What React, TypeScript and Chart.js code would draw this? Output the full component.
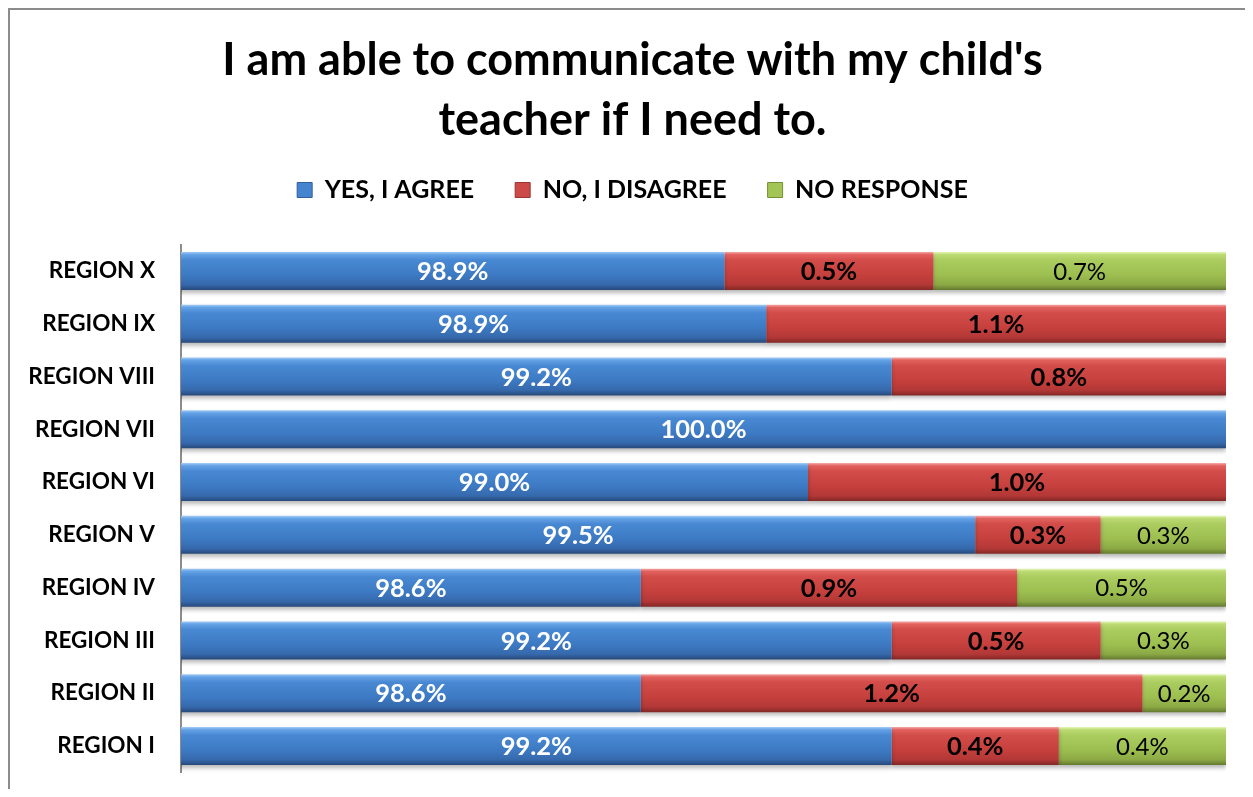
import React, { useEffect, useRef } from 'react';
import { Chart, registerables } from 'chart.js';

Chart.register(...registerables);

const titleLines = ["I am able to communicate with my child's", 'teacher if I need to.'];
const categories = ['REGION X', 'REGION IX', 'REGION VIII', 'REGION VII', 'REGION VI', 'REGION V', 'REGION IV', 'REGION III', 'REGION II', 'REGION I'];
const seriesNames = ['YES, I AGREE', 'NO, I DISAGREE', 'NO RESPONSE'];
const yesValues = [98.8, 98.9, 99.2, 100.0, 99.0, 99.4, 98.6, 99.2, 98.6, 99.2];
const noValues = [0.5, 1.1, 0.8, 0, 1.0, 0.3, 0.9, 0.5, 1.2, 0.4];
const noResponseValues = [0.7, 0, 0, 0, 0, 0.3, 0.5, 0.3, 0.2, 0.4];
const yesLabels = ['98.9%', '98.9%', '99.2%', '100.0%', '99.0%', '99.5%', '98.6%', '99.2%', '98.6%', '99.2%'];
const noLabels = ['0.5%', '1.1%', '0.8%', '', '1.0%', '0.3%', '0.9%', '0.5%', '1.2%', '0.4%'];
const noResponseLabels = ['0.7%', '', '', '', '', '0.3%', '0.5%', '0.3%', '0.2%', '0.4%'];
const axisMin = 97.5;
const axisMax = 100;

const BAR_PCT = 0.72;
const FONT = 'Lato, "Open Sans", sans-serif';

type Stop = [number, string];
const blueStops: Stop[] = [[0, '#a4cdf7'], [0.07, '#65a2e6'], [0.22, '#4888d2'], [0.6, '#3d7ac4'], [0.86, '#3669ac'], [1, '#27497a']];
const redStops: Stop[] = [[0, '#f6aaa8'], [0.07, '#e2625f'], [0.22, '#d24c49'], [0.6, '#c6403d'], [0.86, '#b23836'], [1, '#832826']];
const greenStops: Stop[] = [[0, '#e6f7b8'], [0.07, '#bcdb74'], [0.22, '#abcc5f'], [0.6, '#9dbf50'], [0.86, '#8ca945'], [1, '#637a2f']];
const legendFills = ['#4585d0', '#cc4a47', '#a2c556'];
const legendStrokes = ['#2f5f9c', '#9a3432', '#748f38'];

function barGradient(stops: Stop[]) {
  return (ctx: any) => {
    const chart = ctx.chart;
    const sc = chart.scales && chart.scales.y;
    if (ctx.type !== 'data' || !sc || !sc.height) return stops[3][1];
    const c = sc.getPixelForValue(ctx.dataIndex);
    const h = (sc.height / categories.length) * BAR_PCT;
    const g = chart.ctx.createLinearGradient(0, c - h / 2, 0, c + h / 2);
    stops.forEach(([o, col]) => g.addColorStop(o, col));
    return g;
  };
}

const labelSets = [
  { labels: yesLabels, color: '#ffffff', weight: 'bold', size: 25.5 },
  { labels: noLabels, color: '#000000', weight: 'bold', size: 25.5 },
  { labels: noResponseLabels, color: '#000000', weight: 'normal', size: 24 },
];

const barDecor = {
  id: 'barDecor',
  beforeDatasetsDraw(chart: any) {
    const c = chart.ctx;
    c.save();
    c.shadowColor = 'rgba(0,0,0,0.28)';
    c.shadowBlur = 4;
    c.shadowOffsetY = 3;
  },
  afterDatasetsDraw(chart: any) {
    const ctx = chart.ctx;
    ctx.restore();
    const area = chart.chartArea;
    labelSets.forEach((s, di) => {
      const meta = chart.getDatasetMeta(di);
      meta.data.forEach((el: any, i: number) => {
        const t = s.labels[i];
        if (!t) return;
        const l = Math.max(Math.min(el.x, el.base), area.left);
        const r = Math.min(Math.max(el.x, el.base), area.right);
        ctx.save();
        ctx.font = `${s.weight} ${s.size}px ${FONT}`;
        ctx.fillStyle = s.color;
        ctx.textAlign = 'center';
        ctx.textBaseline = 'middle';
        ctx.fillText(t, (l + r) / 2, el.y + 1);
        ctx.restore();
      });
    });
  },
};

export default function App() {
  const ref = useRef<HTMLCanvasElement | null>(null);

  useEffect(() => {
    if (!ref.current) return;
    const chart = new Chart(ref.current, {
      type: 'bar',
      data: {
        labels: categories,
        datasets: [
          { label: seriesNames[0], data: yesValues, backgroundColor: barGradient(blueStops) },
          { label: seriesNames[1], data: noValues, backgroundColor: barGradient(redStops) },
          { label: seriesNames[2], data: noResponseValues, backgroundColor: barGradient(greenStops) },
        ].map((d) => ({ ...d, borderWidth: 0, barPercentage: BAR_PCT, categoryPercentage: 1 })),
      },
      options: {
        indexAxis: 'y',
        responsive: false,
        maintainAspectRatio: false,
        animation: false,
        devicePixelRatio: 1,
        layout: { padding: { left: 10, right: 0, top: 0, bottom: 16.6 } },
        scales: {
          x: {
            type: 'linear',
            position: 'top',
            min: axisMin,
            max: axisMax,
            stacked: true,
            ticks: { display: false },
            grid: { display: false, drawTicks: false },
            border: { display: false },
            afterFit: (s: any) => {
              s.height = 32;
              s.paddingLeft = 0;
              s.paddingRight = 0;
            },
          },
          y: {
            type: 'category',
            stacked: true,
            grid: { display: false, drawTicks: false },
            border: { display: true, color: '#8c8c8c', width: 2 },
            ticks: { color: '#000', padding: 26, font: { family: FONT, weight: 'bold', size: 22.5 } },
            afterFit: (s: any) => {
              s.width = 161;
              s.paddingTop = 0;
              s.paddingBottom = 0;
            },
          },
          yRight: {
            type: 'category',
            position: 'right',
            grid: { display: false, drawTicks: false },
            border: { display: false },
            ticks: { display: false },
            afterFit: (s: any) => {
              s.width = 19;
              s.paddingTop = 0;
              s.paddingBottom = 0;
            },
          },
        },
        plugins: {
          title: {
            display: true,
            text: titleLines,
            color: '#000',
            font: { family: FONT, weight: 'bold', size: 45, lineHeight: 60 / 45 },
            padding: { top: 20, bottom: -13.5 },
          },
          legend: {
            display: true,
            position: 'top',
            labels: {
              boxWidth: 15,
              boxHeight: 15,
              padding: 41,
              color: '#000',
              font: { family: FONT, weight: 'bold', size: 25 },
              generateLabels: (chart: any) =>
                Chart.defaults.plugins.legend.labels.generateLabels(chart).map((item: any, i: number) => ({
                  ...item,
                  fillStyle: legendFills[i],
                  strokeStyle: legendStrokes[i],
                  lineWidth: 1,
                })),
            },
          },
          tooltip: { enabled: false },
        },
      },
      plugins: [barDecor],
    } as any);
    return () => chart.destroy();
  }, []);

  return (
    <div
      style={{
        width: 1237,
        height: 781,
        boxSizing: 'border-box',
        borderLeft: '2px solid #8c8c8c',
        borderTop: '2px solid #8c8c8c',
        background: '#fff',
      }}
    >
      <canvas ref={ref} width={1235} height={779} style={{ display: 'block' }} />
    </div>
  );
}
